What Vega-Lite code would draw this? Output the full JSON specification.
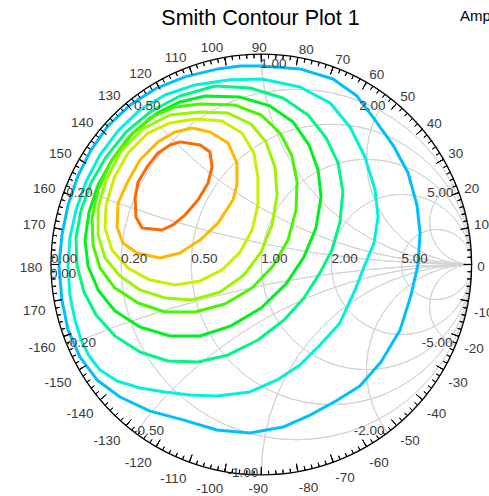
{
"$schema":"https://vega.github.io/schema/vega-lite/v6.json",
"width":489,"height":496,"autosize":{"type":"none"},"padding":0,"background":"white",
"config":{"view":{"stroke":null},"font":"Liberation Sans"},
"title":{"text":"Smith Contour Plot 1","fontSize":21.5,"fontWeight":"normal","font":"Liberation Sans","color":"#000000","anchor":"middle","dx":16,"offset":-29.5},
"datasets":{
"res":[{"r":0.2,"cx":0.1667,"cy":0,"rad":0.8333,"t0":90,"t1":-270},{"r":0.5,"cx":0.3333,"cy":0,"rad":0.6667,"t0":90,"t1":-270},{"r":1,"cx":0.5,"cy":0,"rad":0.5,"t0":90,"t1":-270},{"r":2,"cx":0.6667,"cy":0,"rad":0.3333,"t0":90,"t1":-270},{"r":5,"cx":0.8333,"cy":0,"rad":0.1667,"t0":90,"t1":-270}],
"react":[{"x":0.2,"cx":1,"cy":5,"rad":5,"t0":-112.62,"t1":-90},{"x":0.5,"cx":1,"cy":2,"rad":2,"t0":-143.13,"t1":-90},{"x":1,"cx":1,"cy":1,"rad":1,"t0":-180,"t1":-90},{"x":2,"cx":1,"cy":0.5,"rad":0.5,"t0":-216.87,"t1":-90},{"x":5,"cx":1,"cy":0.2,"rad":0.2,"t0":-247.38,"t1":-90},{"x":-0.2,"cx":1,"cy":-5,"rad":5,"t0":90,"t1":112.62},{"x":-0.5,"cx":1,"cy":-2,"rad":2,"t0":90,"t1":143.13},{"x":-1,"cx":1,"cy":-1,"rad":1,"t0":90,"t1":180},{"x":-2,"cx":1,"cy":-0.5,"rad":0.5,"t0":90,"t1":216.87},{"x":-5,"cx":1,"cy":-0.2,"rad":0.2,"t0":90,"t1":247.38}],
"unit":[{"cx":0,"cy":0,"rad":1,"t0":90,"t1":-270}],
"ticks":[{"t":0},{"t":2},{"t":4},{"t":6},{"t":8},{"t":10},{"t":12},{"t":14},{"t":16},{"t":18},{"t":20},{"t":22},{"t":24},{"t":26},{"t":28},{"t":30},{"t":32},{"t":34},{"t":36},{"t":38},{"t":40},{"t":42},{"t":44},{"t":46},{"t":48},{"t":50},{"t":52},{"t":54},{"t":56},{"t":58},{"t":60},{"t":62},{"t":64},{"t":66},{"t":68},{"t":70},{"t":72},{"t":74},{"t":76},{"t":78},{"t":80},{"t":82},{"t":84},{"t":86},{"t":88},{"t":90},{"t":92},{"t":94},{"t":96},{"t":98},{"t":100},{"t":102},{"t":104},{"t":106},{"t":108},{"t":110},{"t":112},{"t":114},{"t":116},{"t":118},{"t":120},{"t":122},{"t":124},{"t":126},{"t":128},{"t":130},{"t":132},{"t":134},{"t":136},{"t":138},{"t":140},{"t":142},{"t":144},{"t":146},{"t":148},{"t":150},{"t":152},{"t":154},{"t":156},{"t":158},{"t":160},{"t":162},{"t":164},{"t":166},{"t":168},{"t":170},{"t":172},{"t":174},{"t":176},{"t":178},{"t":180},{"t":182},{"t":184},{"t":186},{"t":188},{"t":190},{"t":192},{"t":194},{"t":196},{"t":198},{"t":200},{"t":202},{"t":204},{"t":206},{"t":208},{"t":210},{"t":212},{"t":214},{"t":216},{"t":218},{"t":220},{"t":222},{"t":224},{"t":226},{"t":228},{"t":230},{"t":232},{"t":234},{"t":236},{"t":238},{"t":240},{"t":242},{"t":244},{"t":246},{"t":248},{"t":250},{"t":252},{"t":254},{"t":256},{"t":258},{"t":260},{"t":262},{"t":264},{"t":266},{"t":268},{"t":270},{"t":272},{"t":274},{"t":276},{"t":278},{"t":280},{"t":282},{"t":284},{"t":286},{"t":288},{"t":290},{"t":292},{"t":294},{"t":296},{"t":298},{"t":300},{"t":302},{"t":304},{"t":306},{"t":308},{"t":310},{"t":312},{"t":314},{"t":316},{"t":318},{"t":320},{"t":322},{"t":324},{"t":326},{"t":328},{"t":330},{"t":332},{"t":334},{"t":336},{"t":338},{"t":340},{"t":342},{"t":344},{"t":346},{"t":348},{"t":350},{"t":352},{"t":354},{"t":356},{"t":358}],
"ang":[{"deg":0,"label":"0"},{"deg":10,"label":"10"},{"deg":20,"label":"20"},{"deg":30,"label":"30"},{"deg":40,"label":"40"},{"deg":50,"label":"50"},{"deg":60,"label":"60"},{"deg":70,"label":"70"},{"deg":80,"label":"80"},{"deg":90,"label":"90"},{"deg":100,"label":"100"},{"deg":110,"label":"110"},{"deg":120,"label":"120"},{"deg":130,"label":"130"},{"deg":140,"label":"140"},{"deg":150,"label":"150"},{"deg":160,"label":"160"},{"deg":170,"label":"170"},{"deg":180,"label":"180"},{"deg":-10,"label":"-10"},{"deg":-20,"label":"-20"},{"deg":-30,"label":"-30"},{"deg":-40,"label":"-40"},{"deg":-50,"label":"-50"},{"deg":-60,"label":"-60"},{"deg":-70,"label":"-70"},{"deg":-80,"label":"-80"},{"deg":-90,"label":"-90"},{"deg":-100,"label":"-100"},{"deg":-110,"label":"-110"},{"deg":-120,"label":"-120"},{"deg":-130,"label":"-130"},{"deg":-140,"label":"-140"},{"deg":-150,"label":"-150"},{"deg":-160,"label":"-160"},{"deg":-170,"label":"170"}],
"rlab":[{"v":-1,"label":"0.00"},{"v":-0.6667,"label":"0.20"},{"v":-0.3333,"label":"0.50"},{"v":0,"label":"1.00"},{"v":0.3333,"label":"2.00"},{"v":0.6667,"label":"5.00"}],
"xlab":[{"xv":0,"gx":-1,"gy":0,"label":"0.00"},{"xv":0.2,"gx":-0.9231,"gy":0.3846,"label":"0.20"},{"xv":0.5,"gx":-0.6,"gy":0.8,"label":"0.50"},{"xv":1,"gx":0,"gy":1,"label":"1.00"},{"xv":2,"gx":0.6,"gy":0.8,"label":"2.00"},{"xv":5,"gx":0.9231,"gy":0.3846,"label":"5.00"},{"xv":-0.2,"gx":-0.9231,"gy":-0.3846,"label":"-0.20"},{"xv":-0.5,"gx":-0.6,"gy":-0.8,"label":"-0.50"},{"xv":-1,"gx":0,"gy":-1,"label":"-1.00"},{"xv":-2,"gx":0.6,"gy":-0.8,"label":"-2.00"},{"xv":-5,"gx":0.9231,"gy":-0.3846,"label":"-5.00"}],
"cont":[
{"k":1,"i":0,"gx":0.003,"gy":0.944},{"k":1,"i":1,"gx":0.184,"gy":0.930},{"k":1,"i":2,"gx":0.341,"gy":0.882},{"k":1,"i":3,"gx":0.455,"gy":0.801},{"k":1,"i":4,"gx":0.541,"gy":0.687},{"k":1,"i":5,"gx":0.626,"gy":0.568},{"k":1,"i":6,"gx":0.698,"gy":0.435},{"k":1,"i":7,"gx":0.740,"gy":0.283},{"k":1,"i":8,"gx":0.755,"gy":0.150},{"k":1,"i":9,"gx":0.745,"gy":-0.002},{"k":1,"i":10,"gx":0.712,"gy":-0.145},{"k":1,"i":11,"gx":0.660,"gy":-0.311},{"k":1,"i":12,"gx":0.569,"gy":-0.464},{"k":1,"i":13,"gx":0.469,"gy":-0.578},{"k":1,"i":14,"gx":0.355,"gy":-0.649},{"k":1,"i":15,"gx":0.232,"gy":-0.716},{"k":1,"i":16,"gx":0.103,"gy":-0.773},{"k":1,"i":17,"gx":-0.054,"gy":-0.801},{"k":1,"i":18,"gx":-0.211,"gy":-0.787},{"k":1,"i":19,"gx":-0.372,"gy":-0.739},{"k":1,"i":20,"gx":-0.529,"gy":-0.697},{"k":1,"i":21,"gx":-0.672,"gy":-0.630},{"k":1,"i":22,"gx":-0.781,"gy":-0.549},{"k":1,"i":23,"gx":-0.862,"gy":-0.440},{"k":1,"i":24,"gx":-0.919,"gy":-0.311},{"k":1,"i":25,"gx":-0.948,"gy":-0.169},{"k":1,"i":26,"gx":-0.962,"gy":-0.007},{"k":1,"i":27,"gx":-0.948,"gy":0.140},{"k":1,"i":28,"gx":-0.919,"gy":0.283},{"k":1,"i":29,"gx":-0.872,"gy":0.421},{"k":1,"i":30,"gx":-0.810,"gy":0.544},{"k":1,"i":31,"gx":-0.729,"gy":0.659},{"k":1,"i":32,"gx":-0.624,"gy":0.758},{"k":1,"i":33,"gx":-0.505,"gy":0.835},{"k":1,"i":34,"gx":-0.363,"gy":0.892},{"k":1,"i":35,"gx":-0.206,"gy":0.930},{"k":1,"i":36,"gx":-0.101,"gy":0.944},{"k":1,"i":37,"gx":0.003,"gy":0.944},
{"k":2,"i":0,"gx":0.003,"gy":0.882},{"k":2,"i":1,"gx":0.184,"gy":0.844},{"k":2,"i":2,"gx":0.327,"gy":0.768},{"k":2,"i":3,"gx":0.422,"gy":0.654},{"k":2,"i":4,"gx":0.493,"gy":0.511},{"k":2,"i":5,"gx":0.541,"gy":0.354},{"k":2,"i":6,"gx":0.555,"gy":0.226},{"k":2,"i":7,"gx":0.536,"gy":0.102},{"k":2,"i":8,"gx":0.488,"gy":-0.012},{"k":2,"i":9,"gx":0.446,"gy":-0.121},{"k":2,"i":10,"gx":0.374,"gy":-0.278},{"k":2,"i":11,"gx":0.279,"gy":-0.383},{"k":2,"i":12,"gx":0.184,"gy":-0.478},{"k":2,"i":13,"gx":0.075,"gy":-0.549},{"k":2,"i":14,"gx":-0.054,"gy":-0.606},{"k":2,"i":15,"gx":-0.211,"gy":-0.625},{"k":2,"i":16,"gx":-0.339,"gy":-0.621},{"k":2,"i":17,"gx":-0.458,"gy":-0.606},{"k":2,"i":18,"gx":-0.577,"gy":-0.587},{"k":2,"i":19,"gx":-0.686,"gy":-0.554},{"k":2,"i":20,"gx":-0.767,"gy":-0.502},{"k":2,"i":21,"gx":-0.819,"gy":-0.435},{"k":2,"i":22,"gx":-0.857,"gy":-0.359},{"k":2,"i":23,"gx":-0.886,"gy":-0.264},{"k":2,"i":24,"gx":-0.910,"gy":-0.145},{"k":2,"i":25,"gx":-0.919,"gy":-0.007},{"k":2,"i":26,"gx":-0.910,"gy":0.126},{"k":2,"i":27,"gx":-0.881,"gy":0.259},{"k":2,"i":28,"gx":-0.834,"gy":0.392},{"k":2,"i":29,"gx":-0.767,"gy":0.521},{"k":2,"i":30,"gx":-0.681,"gy":0.635},{"k":2,"i":31,"gx":-0.577,"gy":0.735},{"k":2,"i":32,"gx":-0.458,"gy":0.806},{"k":2,"i":33,"gx":-0.315,"gy":0.854},{"k":2,"i":34,"gx":-0.149,"gy":0.878},{"k":2,"i":35,"gx":0.003,"gy":0.882},
{"k":3,"i":0,"gx":-0.220,"gy":0.849},{"k":3,"i":1,"gx":-0.054,"gy":0.839},{"k":3,"i":2,"gx":0.103,"gy":0.792},{"k":3,"i":3,"gx":0.222,"gy":0.711},{"k":3,"i":4,"gx":0.308,"gy":0.602},{"k":3,"i":5,"gx":0.365,"gy":0.483},{"k":3,"i":6,"gx":0.388,"gy":0.345},{"k":3,"i":7,"gx":0.374,"gy":0.202},{"k":3,"i":8,"gx":0.336,"gy":0.069},{"k":3,"i":9,"gx":0.279,"gy":-0.040},{"k":3,"i":10,"gx":0.203,"gy":-0.159},{"k":3,"i":11,"gx":0.108,"gy":-0.264},{"k":3,"i":12,"gx":-0.016,"gy":-0.359},{"k":3,"i":13,"gx":-0.158,"gy":-0.430},{"k":3,"i":14,"gx":-0.301,"gy":-0.464},{"k":3,"i":15,"gx":-0.444,"gy":-0.459},{"k":3,"i":16,"gx":-0.577,"gy":-0.416},{"k":3,"i":17,"gx":-0.696,"gy":-0.340},{"k":3,"i":18,"gx":-0.786,"gy":-0.240},{"k":3,"i":19,"gx":-0.843,"gy":-0.131},{"k":3,"i":20,"gx":-0.876,"gy":-0.007},{"k":3,"i":21,"gx":-0.881,"gy":0.126},{"k":3,"i":22,"gx":-0.857,"gy":0.259},{"k":3,"i":23,"gx":-0.810,"gy":0.388},{"k":3,"i":24,"gx":-0.738,"gy":0.511},{"k":3,"i":25,"gx":-0.643,"gy":0.630},{"k":3,"i":26,"gx":-0.529,"gy":0.725},{"k":3,"i":27,"gx":-0.387,"gy":0.801},{"k":3,"i":28,"gx":-0.220,"gy":0.849},
{"k":4,"i":0,"gx":-0.268,"gy":0.801},{"k":4,"i":1,"gx":-0.101,"gy":0.796},{"k":4,"i":2,"gx":0.041,"gy":0.754},{"k":4,"i":3,"gx":0.151,"gy":0.678},{"k":4,"i":4,"gx":0.227,"gy":0.568},{"k":4,"i":5,"gx":0.270,"gy":0.449},{"k":4,"i":6,"gx":0.284,"gy":0.321},{"k":4,"i":7,"gx":0.260,"gy":0.174},{"k":4,"i":8,"gx":0.203,"gy":0.036},{"k":4,"i":9,"gx":0.117,"gy":-0.093},{"k":4,"i":10,"gx":-0.001,"gy":-0.207},{"k":4,"i":11,"gx":-0.144,"gy":-0.292},{"k":4,"i":12,"gx":-0.291,"gy":-0.340},{"k":4,"i":13,"gx":-0.434,"gy":-0.340},{"k":4,"i":14,"gx":-0.577,"gy":-0.297},{"k":4,"i":15,"gx":-0.696,"gy":-0.221},{"k":4,"i":16,"gx":-0.776,"gy":-0.121},{"k":4,"i":17,"gx":-0.824,"gy":-0.007},{"k":4,"i":18,"gx":-0.838,"gy":0.117},{"k":4,"i":19,"gx":-0.819,"gy":0.250},{"k":4,"i":20,"gx":-0.776,"gy":0.378},{"k":4,"i":21,"gx":-0.705,"gy":0.506},{"k":4,"i":22,"gx":-0.610,"gy":0.625},{"k":4,"i":23,"gx":-0.496,"gy":0.720},{"k":4,"i":24,"gx":-0.387,"gy":0.773},{"k":4,"i":25,"gx":-0.268,"gy":0.801},
{"k":5,"i":0,"gx":-0.291,"gy":0.763},{"k":5,"i":1,"gx":-0.125,"gy":0.758},{"k":5,"i":2,"gx":-0.001,"gy":0.711},{"k":5,"i":3,"gx":0.089,"gy":0.625},{"k":5,"i":4,"gx":0.146,"gy":0.516},{"k":5,"i":5,"gx":0.170,"gy":0.392},{"k":5,"i":6,"gx":0.165,"gy":0.259},{"k":5,"i":7,"gx":0.127,"gy":0.116},{"k":5,"i":8,"gx":0.056,"gy":-0.007},{"k":5,"i":9,"gx":-0.044,"gy":-0.112},{"k":5,"i":10,"gx":-0.173,"gy":-0.188},{"k":5,"i":11,"gx":-0.315,"gy":-0.226},{"k":5,"i":12,"gx":-0.458,"gy":-0.226},{"k":5,"i":13,"gx":-0.586,"gy":-0.183},{"k":5,"i":14,"gx":-0.696,"gy":-0.112},{"k":5,"i":15,"gx":-0.767,"gy":-0.017},{"k":5,"i":16,"gx":-0.800,"gy":0.093},{"k":5,"i":17,"gx":-0.805,"gy":0.221},{"k":5,"i":18,"gx":-0.776,"gy":0.354},{"k":5,"i":19,"gx":-0.719,"gy":0.483},{"k":5,"i":20,"gx":-0.634,"gy":0.602},{"k":5,"i":21,"gx":-0.529,"gy":0.697},{"k":5,"i":22,"gx":-0.410,"gy":0.749},{"k":5,"i":23,"gx":-0.291,"gy":0.763},
{"k":6,"i":0,"gx":-0.291,"gy":0.725},{"k":6,"i":1,"gx":-0.158,"gy":0.720},{"k":6,"i":2,"gx":-0.049,"gy":0.668},{"k":6,"i":3,"gx":0.022,"gy":0.583},{"k":6,"i":4,"gx":0.065,"gy":0.464},{"k":6,"i":5,"gx":0.075,"gy":0.330},{"k":6,"i":6,"gx":0.051,"gy":0.188},{"k":6,"i":7,"gx":-0.001,"gy":0.059},{"k":6,"i":8,"gx":-0.082,"gy":-0.050},{"k":6,"i":9,"gx":-0.196,"gy":-0.131},{"k":6,"i":10,"gx":-0.330,"gy":-0.169},{"k":6,"i":11,"gx":-0.458,"gy":-0.159},{"k":6,"i":12,"gx":-0.577,"gy":-0.121},{"k":6,"i":13,"gx":-0.672,"gy":-0.055},{"k":6,"i":14,"gx":-0.743,"gy":0.031},{"k":6,"i":15,"gx":-0.776,"gy":0.140},{"k":6,"i":16,"gx":-0.776,"gy":0.269},{"k":6,"i":17,"gx":-0.738,"gy":0.402},{"k":6,"i":18,"gx":-0.672,"gy":0.530},{"k":6,"i":19,"gx":-0.567,"gy":0.644},{"k":6,"i":20,"gx":-0.434,"gy":0.711},{"k":6,"i":21,"gx":-0.291,"gy":0.725},
{"k":7,"i":0,"gx":-0.315,"gy":0.692},{"k":7,"i":1,"gx":-0.187,"gy":0.682},{"k":7,"i":2,"gx":-0.092,"gy":0.625},{"k":7,"i":3,"gx":-0.035,"gy":0.530},{"k":7,"i":4,"gx":-0.016,"gy":0.411},{"k":7,"i":5,"gx":-0.016,"gy":0.283},{"k":7,"i":6,"gx":-0.044,"gy":0.164},{"k":7,"i":7,"gx":-0.101,"gy":0.059},{"k":7,"i":8,"gx":-0.187,"gy":-0.026},{"k":7,"i":9,"gx":-0.291,"gy":-0.078},{"k":7,"i":10,"gx":-0.410,"gy":-0.097},{"k":7,"i":11,"gx":-0.529,"gy":-0.074},{"k":7,"i":12,"gx":-0.634,"gy":-0.017},{"k":7,"i":13,"gx":-0.710,"gy":0.069},{"k":7,"i":14,"gx":-0.743,"gy":0.174},{"k":7,"i":15,"gx":-0.738,"gy":0.283},{"k":7,"i":16,"gx":-0.700,"gy":0.411},{"k":7,"i":17,"gx":-0.634,"gy":0.530},{"k":7,"i":18,"gx":-0.539,"gy":0.625},{"k":7,"i":19,"gx":-0.434,"gy":0.673},{"k":7,"i":20,"gx":-0.315,"gy":0.692},
{"k":8,"i":0,"gx":-0.329,"gy":0.649},{"k":8,"i":1,"gx":-0.244,"gy":0.630},{"k":8,"i":2,"gx":-0.158,"gy":0.578},{"k":8,"i":3,"gx":-0.116,"gy":0.483},{"k":8,"i":4,"gx":-0.116,"gy":0.378},{"k":8,"i":5,"gx":-0.134,"gy":0.307},{"k":8,"i":6,"gx":-0.206,"gy":0.197},{"k":8,"i":7,"gx":-0.291,"gy":0.116},{"k":8,"i":8,"gx":-0.387,"gy":0.055},{"k":8,"i":9,"gx":-0.482,"gy":0.031},{"k":8,"i":10,"gx":-0.591,"gy":0.055},{"k":8,"i":11,"gx":-0.658,"gy":0.102},{"k":8,"i":12,"gx":-0.686,"gy":0.178},{"k":8,"i":13,"gx":-0.681,"gy":0.292},{"k":8,"i":14,"gx":-0.638,"gy":0.388},{"k":8,"i":15,"gx":-0.577,"gy":0.497},{"k":8,"i":16,"gx":-0.491,"gy":0.583},{"k":8,"i":17,"gx":-0.410,"gy":0.630},{"k":8,"i":18,"gx":-0.329,"gy":0.649},
{"k":9,"i":0,"gx":-0.387,"gy":0.583},{"k":9,"i":1,"gx":-0.291,"gy":0.568},{"k":9,"i":2,"gx":-0.244,"gy":0.535},{"k":9,"i":3,"gx":-0.234,"gy":0.464},{"k":9,"i":4,"gx":-0.253,"gy":0.388},{"k":9,"i":5,"gx":-0.301,"gy":0.307},{"k":9,"i":6,"gx":-0.363,"gy":0.235},{"k":9,"i":7,"gx":-0.420,"gy":0.188},{"k":9,"i":8,"gx":-0.472,"gy":0.164},{"k":9,"i":9,"gx":-0.567,"gy":0.174},{"k":9,"i":10,"gx":-0.596,"gy":0.226},{"k":9,"i":11,"gx":-0.600,"gy":0.316},{"k":9,"i":12,"gx":-0.586,"gy":0.392},{"k":9,"i":13,"gx":-0.543,"gy":0.464},{"k":9,"i":14,"gx":-0.491,"gy":0.530},{"k":9,"i":15,"gx":-0.434,"gy":0.568},{"k":9,"i":16,"gx":-0.387,"gy":0.583}
]},
"layer":[
{"data":{"name":"res"},"mark":{"type":"arc","filled":false,"stroke":"#d3d3d3","strokeWidth":1},
 "encoding":{"x":{"field":"cx","type":"quantitative","scale":{"domain":[-1.2425,1.0827],"nice":false,"zero":false},"axis":null},
 "y":{"field":"cy","type":"quantitative","scale":{"domain":[-1.1008,1.2577],"nice":false,"zero":false},"axis":null},
 "theta":{"field":"t0","type":"quantitative","scale":{"domain":[90,-270],"range":[0,6.283185307],"zero":false,"nice":false},"stack":null},"theta2":{"field":"t1"},
 "radius":{"field":"rad","type":"quantitative","scale":{"type":"linear","domain":[0,1],"range":[0,210.3],"zero":true,"nice":false}},"radius2":{"field":"rad"}}},
{"data":{"name":"react"},"mark":{"type":"arc","filled":false,"stroke":"#d3d3d3","strokeWidth":1},
 "encoding":{"x":{"field":"cx","type":"quantitative","scale":{"domain":[-1.2425,1.0827],"nice":false,"zero":false},"axis":null},
 "y":{"field":"cy","type":"quantitative","scale":{"domain":[-1.1008,1.2577],"nice":false,"zero":false},"axis":null},
 "theta":{"field":"t0","type":"quantitative","scale":{"domain":[90,-270],"range":[0,6.283185307],"zero":false,"nice":false},"stack":null},"theta2":{"field":"t1"},
 "radius":{"field":"rad","type":"quantitative","scale":{"type":"linear","domain":[0,1],"range":[0,210.3],"zero":true,"nice":false}},"radius2":{"field":"rad"}}},
{"mark":{"type":"rule","stroke":"#d3d3d3","strokeWidth":1},
 "encoding":{"x":{"datum":-1,"type":"quantitative","scale":{"domain":[-1.2425,1.0827],"nice":false,"zero":false},"axis":null},"x2":{"datum":1},
 "y":{"datum":0,"type":"quantitative","scale":{"domain":[-1.1008,1.2577],"nice":false,"zero":false},"axis":null}}},
{"data":{"name":"cont"},"mark":{"type":"line","strokeWidth":3,"strokeJoin":"round"},
 "encoding":{"x":{"field":"gx","type":"quantitative","scale":{"domain":[-1.2425,1.0827],"nice":false,"zero":false},"axis":null},
 "y":{"field":"gy","type":"quantitative","scale":{"domain":[-1.1008,1.2577],"nice":false,"zero":false},"axis":null},
 "order":{"field":"i","type":"quantitative"},
 "color":{"field":"k","type":"ordinal","scale":{"domain":[1,2,3,4,5,6,7,8,9],"range":["#00bfff","#00f2d8","#00f784","#00f020","#48f500","#99f500","#ccee00","#ffb800","#ff6a00"]},
  "legend":{"title":"Amplitude","orient":"none","legendX":460,"legendY":3,"direction":"horizontal","titleOrient":"left","titleFontSize":15,"titleFontWeight":"normal","titleColor":"#000000","titleFont":"Liberation Sans","titleBaseline":"top","labelExpr":"''","symbolOpacity":0}}}},
{"data":{"name":"unit"},"mark":{"type":"arc","filled":false,"stroke":"#000000","strokeWidth":1.3},
 "encoding":{"x":{"field":"cx","type":"quantitative","scale":{"domain":[-1.2425,1.0827],"nice":false,"zero":false},"axis":null},
 "y":{"field":"cy","type":"quantitative","scale":{"domain":[-1.1008,1.2577],"nice":false,"zero":false},"axis":null},
 "theta":{"field":"t0","type":"quantitative","scale":{"domain":[90,-270],"range":[0,6.283185307],"zero":false,"nice":false},"stack":null},"theta2":{"field":"t1"},
 "radius":{"field":"rad","type":"quantitative","scale":{"type":"linear","domain":[0,1],"range":[0,210.3],"zero":true,"nice":false}},"radius2":{"field":"rad"}}},
{"data":{"name":"ticks"},"mark":{"type":"arc","filled":false,"stroke":"#000000","strokeWidth":1},
 "encoding":{"x":{"datum":0,"type":"quantitative","scale":{"domain":[-1.2425,1.0827],"nice":false,"zero":false},"axis":null},
 "y":{"datum":0,"type":"quantitative","scale":{"domain":[-1.1008,1.2577],"nice":false,"zero":false},"axis":null},
 "theta":{"field":"t","type":"quantitative","scale":{"domain":[90,-270],"range":[0,6.283185307],"zero":false,"nice":false},"stack":null},"theta2":{"field":"t"},
 "radius":{"datum":1,"type":"quantitative","scale":{"type":"linear","domain":[0,1],"range":[0,210.3],"zero":true,"nice":false}},"radius2":{"datum":0.981}}},
{"data":{"name":"ticks"},"transform":[{"filter":"datum.t % 10 == 0"}],"mark":{"type":"arc","filled":false,"stroke":"#000000","strokeWidth":1},
 "encoding":{"x":{"datum":0,"type":"quantitative","scale":{"domain":[-1.2425,1.0827],"nice":false,"zero":false},"axis":null},
 "y":{"datum":0,"type":"quantitative","scale":{"domain":[-1.1008,1.2577],"nice":false,"zero":false},"axis":null},
 "theta":{"field":"t","type":"quantitative","scale":{"domain":[90,-270],"range":[0,6.283185307],"zero":false,"nice":false},"stack":null},"theta2":{"field":"t"},
 "radius":{"datum":1,"type":"quantitative","scale":{"type":"linear","domain":[0,1],"range":[0,210.3],"zero":true,"nice":false}},"radius2":{"datum":0.962}}},
{"data":{"name":"ang"},"transform":[{"filter":"datum.deg >= 10 && datum.deg <= 80"}],"mark":{"type":"text","radius":216,"align":"left","baseline":"middle","dy":-2,"fontSize":13.5,"font":"Liberation Sans","color":"#3a3a3a"},
 "encoding":{"x":{"datum":0,"type":"quantitative","scale":{"domain":[-1.2425,1.0827],"nice":false,"zero":false},"axis":null},"y":{"datum":0,"type":"quantitative","scale":{"domain":[-1.1008,1.2577],"nice":false,"zero":false},"axis":null},
 "theta":{"field":"deg","type":"quantitative","scale":{"domain":[90,-270],"range":[0,6.283185307],"zero":false,"nice":false},"stack":null},"text":{"field":"label"}}},
{"data":{"name":"ang"},"transform":[{"filter":"datum.deg == 0"}],"mark":{"type":"text","radius":216,"align":"left","baseline":"middle","dy":2.3,"fontSize":13.5,"font":"Liberation Sans","color":"#3a3a3a"},
 "encoding":{"x":{"datum":0,"type":"quantitative","scale":{"domain":[-1.2425,1.0827],"nice":false,"zero":false},"axis":null},"y":{"datum":0,"type":"quantitative","scale":{"domain":[-1.1008,1.2577],"nice":false,"zero":false},"axis":null},
 "theta":{"field":"deg","type":"quantitative","scale":{"domain":[90,-270],"range":[0,6.283185307],"zero":false,"nice":false},"stack":null},"text":{"field":"label"}}},
{"data":{"name":"ang"},"transform":[{"filter":"datum.deg <= -10 && datum.deg >= -80"}],"mark":{"type":"text","radius":216,"align":"left","baseline":"middle","dy":11,"fontSize":13.5,"font":"Liberation Sans","color":"#3a3a3a"},
 "encoding":{"x":{"datum":0,"type":"quantitative","scale":{"domain":[-1.2425,1.0827],"nice":false,"zero":false},"axis":null},"y":{"datum":0,"type":"quantitative","scale":{"domain":[-1.1008,1.2577],"nice":false,"zero":false},"axis":null},
 "theta":{"field":"deg","type":"quantitative","scale":{"domain":[90,-270],"range":[0,6.283185307],"zero":false,"nice":false},"stack":null},"text":{"field":"label"}}},
{"data":{"name":"ang"},"transform":[{"filter":"datum.deg == 90"}],"mark":{"type":"text","radius":217,"align":"center","baseline":"middle","dx":-2,"dy":1,"fontSize":13.5,"font":"Liberation Sans","color":"#3a3a3a"},
 "encoding":{"x":{"datum":0,"type":"quantitative","scale":{"domain":[-1.2425,1.0827],"nice":false,"zero":false},"axis":null},"y":{"datum":0,"type":"quantitative","scale":{"domain":[-1.1008,1.2577],"nice":false,"zero":false},"axis":null},
 "theta":{"field":"deg","type":"quantitative","scale":{"domain":[90,-270],"range":[0,6.283185307],"zero":false,"nice":false},"stack":null},"text":{"field":"label"}}},
{"data":{"name":"ang"},"transform":[{"filter":"datum.deg == -90"}],"mark":{"type":"text","radius":217,"align":"center","baseline":"middle","dx":-3,"dy":7.3,"fontSize":13.5,"font":"Liberation Sans","color":"#3a3a3a"},
 "encoding":{"x":{"datum":0,"type":"quantitative","scale":{"domain":[-1.2425,1.0827],"nice":false,"zero":false},"axis":null},"y":{"datum":0,"type":"quantitative","scale":{"domain":[-1.1008,1.2577],"nice":false,"zero":false},"axis":null},
 "theta":{"field":"deg","type":"quantitative","scale":{"domain":[90,-270],"range":[0,6.283185307],"zero":false,"nice":false},"stack":null},"text":{"field":"label"}}},
{"data":{"name":"ang"},"transform":[{"filter":"datum.deg >= 100 && datum.deg <= 170"}],"mark":{"type":"text","radius":219,"align":"right","baseline":"middle","dy":-1,"fontSize":13.5,"font":"Liberation Sans","color":"#3a3a3a"},
 "encoding":{"x":{"datum":0,"type":"quantitative","scale":{"domain":[-1.2425,1.0827],"nice":false,"zero":false},"axis":null},"y":{"datum":0,"type":"quantitative","scale":{"domain":[-1.1008,1.2577],"nice":false,"zero":false},"axis":null},
 "theta":{"field":"deg","type":"quantitative","scale":{"domain":[90,-270],"range":[0,6.283185307],"zero":false,"nice":false},"stack":null},"text":{"field":"label"}}},
{"data":{"name":"ang"},"transform":[{"filter":"datum.deg == 180"}],"mark":{"type":"text","radius":219,"align":"right","baseline":"middle","dy":3.3,"fontSize":13.5,"font":"Liberation Sans","color":"#3a3a3a"},
 "encoding":{"x":{"datum":0,"type":"quantitative","scale":{"domain":[-1.2425,1.0827],"nice":false,"zero":false},"axis":null},"y":{"datum":0,"type":"quantitative","scale":{"domain":[-1.1008,1.2577],"nice":false,"zero":false},"axis":null},
 "theta":{"field":"deg","type":"quantitative","scale":{"domain":[90,-270],"range":[0,6.283185307],"zero":false,"nice":false},"stack":null},"text":{"field":"label"}}},
{"data":{"name":"ang"},"transform":[{"filter":"datum.deg <= -100"}],"mark":{"type":"text","radius":219,"align":"right","baseline":"middle","dy":8.8,"fontSize":13.5,"font":"Liberation Sans","color":"#3a3a3a"},
 "encoding":{"x":{"datum":0,"type":"quantitative","scale":{"domain":[-1.2425,1.0827],"nice":false,"zero":false},"axis":null},"y":{"datum":0,"type":"quantitative","scale":{"domain":[-1.1008,1.2577],"nice":false,"zero":false},"axis":null},
 "theta":{"field":"deg","type":"quantitative","scale":{"domain":[90,-270],"range":[0,6.283185307],"zero":false,"nice":false},"stack":null},"text":{"field":"label"}}},
{"data":{"name":"rlab"},"mark":{"type":"text","align":"left","baseline":"alphabetic","dy":-1,"fontSize":13.5,"font":"Liberation Sans","color":"#3a3a3a"},
 "encoding":{"x":{"field":"v","type":"quantitative","scale":{"domain":[-1.2425,1.0827],"nice":false,"zero":false},"axis":null},"y":{"datum":0,"type":"quantitative","scale":{"domain":[-1.1008,1.2577],"nice":false,"zero":false},"axis":null},"text":{"field":"label"}}},
{"data":{"name":"xlab"},"transform":[{"filter":"datum.xv >= 0 && datum.xv <= 1"}],"mark":{"type":"text","align":"left","baseline":"top","dx":-1,"dy":2.5,"fontSize":13.5,"font":"Liberation Sans","color":"#3a3a3a"},
 "encoding":{"x":{"field":"gx","type":"quantitative","scale":{"domain":[-1.2425,1.0827],"nice":false,"zero":false},"axis":null},"y":{"field":"gy","type":"quantitative","scale":{"domain":[-1.1008,1.2577],"nice":false,"zero":false},"axis":null},"text":{"field":"label"}}},
{"data":{"name":"xlab"},"transform":[{"filter":"datum.xv > 1"}],"mark":{"type":"text","align":"right","baseline":"top","dx":-2,"dy":2.5,"fontSize":13.5,"font":"Liberation Sans","color":"#3a3a3a"},
 "encoding":{"x":{"field":"gx","type":"quantitative","scale":{"domain":[-1.2425,1.0827],"nice":false,"zero":false},"axis":null},"y":{"field":"gy","type":"quantitative","scale":{"domain":[-1.1008,1.2577],"nice":false,"zero":false},"axis":null},"text":{"field":"label"}}},
{"data":{"name":"xlab"},"transform":[{"filter":"datum.xv < 0 && datum.xv > -1"}],"mark":{"type":"text","align":"left","baseline":"alphabetic","dx":-2,"dy":2,"fontSize":13.5,"font":"Liberation Sans","color":"#3a3a3a"},
 "encoding":{"x":{"field":"gx","type":"quantitative","scale":{"domain":[-1.2425,1.0827],"nice":false,"zero":false},"axis":null},"y":{"field":"gy","type":"quantitative","scale":{"domain":[-1.1008,1.2577],"nice":false,"zero":false},"axis":null},"text":{"field":"label"}}},
{"data":{"name":"xlab"},"transform":[{"filter":"datum.xv <= -1"}],"mark":{"type":"text","align":"right","baseline":"alphabetic","dx":-3,"dy":2,"fontSize":13.5,"font":"Liberation Sans","color":"#3a3a3a"},
 "encoding":{"x":{"field":"gx","type":"quantitative","scale":{"domain":[-1.2425,1.0827],"nice":false,"zero":false},"axis":null},"y":{"field":"gy","type":"quantitative","scale":{"domain":[-1.1008,1.2577],"nice":false,"zero":false},"axis":null},"text":{"field":"label"}}}
]
}
